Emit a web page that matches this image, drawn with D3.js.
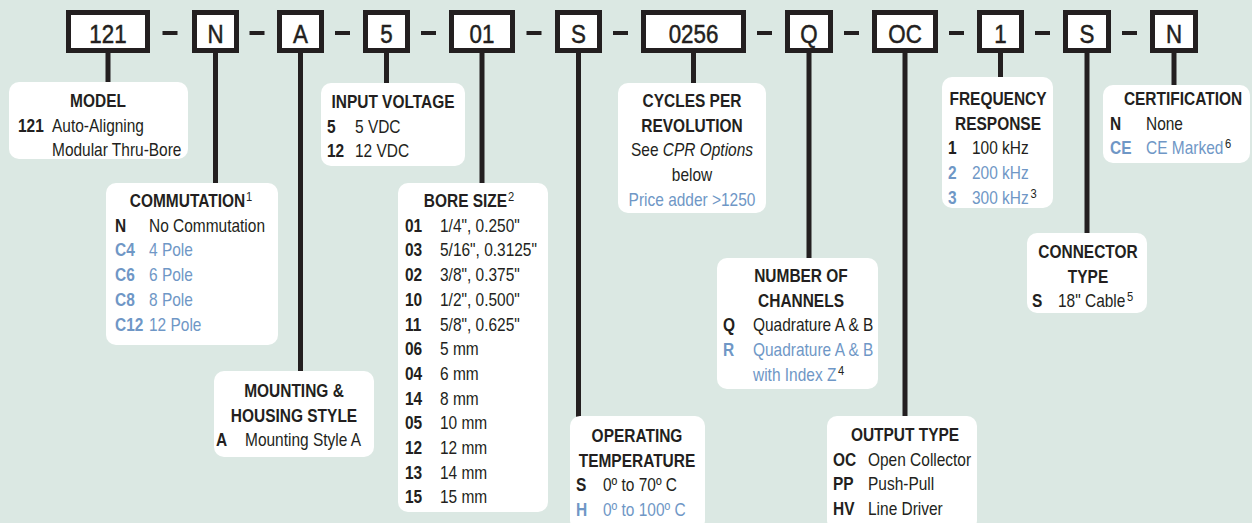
<!DOCTYPE html>
<html>
<head>
<meta charset="utf-8">
<script src="https://cdn.jsdelivr.net/npm/d3@7"></script>
<style>
  body { margin: 0; background: #dbe8e3; }
  svg { display: block; }
</style>
</head>
<body>
<div id="vizContainer"></div>
<script>
// ---- data ----
// part number segments, left to right
let codes = ["121", "N", "A", "5", "01", "S", "0256", "Q", "OC", "1", "S", "N"];

// option rows: [code, description, footnote, optional (price adder)]
let modelRows = [["121", "Auto-Aligning"], ["", "Modular Thru-Bore"]];
let commutationRows = [
  ["N", "No Commutation"],
  ["C4", "4 Pole", null, true],
  ["C6", "6 Pole", null, true],
  ["C8", "8 Pole", null, true],
  ["C12", "12 Pole", null, true]
];
let mountingRows = [["A", "Mounting Style A"]];
let voltageRows = [["5", "5 VDC"], ["12", "12 VDC"]];
let boreRows = [
  ["01", "1/4\", 0.250\""],
  ["03", "5/16\", 0.3125\""],
  ["02", "3/8\", 0.375\""],
  ["10", "1/2\", 0.500\""],
  ["11", "5/8\", 0.625\""],
  ["06", "5 mm"],
  ["04", "6 mm"],
  ["14", "8 mm"],
  ["05", "10 mm"],
  ["12", "12 mm"],
  ["13", "14 mm"],
  ["15", "15 mm"]
];
let temperatureRows = [["S", "0º to 70º C"], ["H", "0º to 100º C", null, true]];
let cprLines = [["See ", "CPR Options"], ["below"], ["Price adder >1250", null, true]];
let channelRows = [
  ["Q", "Quadrature A & B"],
  ["R", "Quadrature A & B", null, true],
  ["", "with Index Z", "4", true]
];
let outputRows = [["OC", "Open Collector"], ["PP", "Push-Pull"], ["HV", "Line Driver"]];
let frequencyRows = [["1", "100 kHz"], ["2", "200 kHz", null, true], ["3", "300 kHz", "3", true]];
let connectorRows = [["S", "18\" Cable", "5"]];
let certificationRows = [["N", "None"], ["CE", "CE Marked", "6", true]];

// ---- layout ----
let w = 1252;
let h = 523;
let dark = "#231f20";
let blue = "#6f97c6";
let font = "'Liberation Sans', Arial, sans-serif";
let sx = 0.86; // squeeze to mimic a condensed face
let lineH = 24.7;

// x extent of each segment box
let segX = [[66, 150], [192, 239], [277, 324], [363, 410], [449, 515], [555, 602],
  [641, 746], [785, 833], [872, 938], [977, 1024], [1063, 1111], [1150, 1198]];
let segTop = 10;
let segBottom = 53;
let border = 5;

let panels = [
  { seg: 0, title: ["MODEL"], rows: modelRows, box: [9, 82, 188, 159], cx: 98, codeX: 18, descX: 52, y0: 107 },
  { seg: 1, title: ["COMMUTATION"], note: "1", rows: commutationRows, box: [106, 183, 278, 345], cx: 191, codeX: 115, descX: 149, y0: 207 },
  { seg: 2, title: ["MOUNTING &", "HOUSING STYLE"], rows: mountingRows, box: [214, 371, 374, 457], cx: 294, codeX: 216, descX: 245, y0: 397 },
  { seg: 3, title: ["INPUT VOLTAGE"], rows: voltageRows, box: [321, 83, 465, 166], cx: 393, codeX: 327, descX: 355, y0: 108 },
  { seg: 4, title: ["BORE SIZE"], note: "2", rows: boreRows, box: [398, 183, 548, 512], cx: 469, codeX: 405, descX: 440, y0: 207 },
  { seg: 5, title: ["OPERATING", "TEMPERATURE"], rows: temperatureRows, box: [570, 416, 705, 530], cx: 637, codeX: 576, descX: 603, y0: 442 },
  { seg: 6, title: ["CYCLES PER", "REVOLUTION"], lines: cprLines, box: [618, 83, 766, 213], cx: 692, y0: 107 },
  { seg: 7, title: ["NUMBER OF", "CHANNELS"], rows: channelRows, box: [717, 258, 878, 389], cx: 801, codeX: 723, descX: 753, y0: 282 },
  { seg: 8, title: ["OUTPUT TYPE"], rows: outputRows, box: [827, 416, 977, 530], cx: 905, codeX: 833, descX: 868, y0: 441 },
  { seg: 9, title: ["FREQUENCY", "RESPONSE"], rows: frequencyRows, box: [942, 77, 1053, 208], cx: 998, codeX: 948, descX: 972, y0: 105 },
  { seg: 10, title: ["CONNECTOR", "TYPE"], rows: connectorRows, box: [1027, 233, 1147, 313], cx: 1088, codeX: 1032, descX: 1058, y0: 258 },
  { seg: 11, title: ["CERTIFICATION"], rows: certificationRows, box: [1103, 85, 1250, 163], cx: 1183, codeX: 1110, descX: 1146, y0: 105 }
];

let viz = d3.select("#vizContainer")
  .append("svg")
  .attr("width", w)
  .attr("height", h)
  .style("background-color", "#dbe8e3")
  .style("font-family", font)
  ;

let segCenter = (i) => (segX[i][0] + segX[i][1]) / 2;
let place = (x, y) => "translate(" + x + "," + y + ") scale(" + sx + ",1)";

// connector lines (drawn first so boxes sit on top)
viz.append("g").attr("class", "leaders")
  .selectAll("line")
  .data(panels)
  .enter()
  .append("line")
  .attr("x1", d => segCenter(d.seg))
  .attr("x2", d => segCenter(d.seg))
  .attr("y1", segBottom - 2)
  .attr("y2", d => d.box[1] + 1)
  .attr("stroke", dark)
  .attr("stroke-width", 5)
  ;

// dashes between segments
viz.append("g").attr("class", "dashes")
  .selectAll("rect")
  .data(codes.slice(1))
  .enter()
  .append("rect")
  .attr("x", (d, i) => (segX[i][1] + segX[i + 1][0]) / 2 - 8.5)
  .attr("y", 31)
  .attr("width", 15)
  .attr("height", 4)
  .attr("fill", dark)
  ;

// segment boxes
let segs = viz.append("g").attr("class", "segments")
  .selectAll("g")
  .data(codes)
  .enter()
  .append("g")
  ;
segs.append("rect")
  .attr("x", (d, i) => segX[i][0] + border / 2)
  .attr("y", segTop + border / 2)
  .attr("width", (d, i) => segX[i][1] - segX[i][0] - border)
  .attr("height", segBottom - segTop - border)
  .attr("fill", "white")
  .attr("stroke", dark)
  .attr("stroke-width", border)
  ;
segs.append("text")
  .attr("transform", (d, i) => place(segCenter(i), 43))
  .attr("text-anchor", "middle")
  .attr("font-size", 26)
  .attr("fill", dark)
  .attr("stroke", dark)
  .attr("stroke-width", 0.5)
  .text(d => d)
  ;

// option panels
let pg = viz.append("g").attr("class", "panels")
  .selectAll("g")
  .data(panels)
  .enter()
  .append("g")
  ;

pg.append("rect")
  .attr("x", d => d.box[0])
  .attr("y", d => d.box[1])
  .attr("width", d => d.box[2] - d.box[0])
  .attr("height", d => d.box[3] - d.box[1])
  .attr("rx", 10)
  .attr("fill", "white")
  ;

pg.each(function (d) {
  let g = d3.select(this);

  // title lines
  d.title.forEach((t, k) => {
    let tt = g.append("text")
      .attr("transform", place(d.cx, d.y0 + k * lineH))
      .attr("text-anchor", "middle")
      .attr("font-size", 18)
      .attr("font-weight", "bold")
      .attr("fill", dark)
      ;
    tt.append("tspan").text(t);
    if (d.note && k == d.title.length - 1) {
      tt.append("tspan")
        .attr("font-size", 13)
        .attr("font-weight", "normal")
        .attr("dy", -6)
        .attr("dx", 1)
        .text(d.note);
    }
  });

  let start = d.y0 + d.title.length * lineH;

  // centred free text lines (CPR)
  if (d.lines) {
    d.lines.forEach((l, k) => {
      let tt = g.append("text")
        .attr("transform", place(d.cx, start + k * lineH))
        .attr("text-anchor", "middle")
        .attr("font-size", 18)
        .attr("fill", l[2] ? blue : dark)
        ;
      tt.append("tspan").text(l[0]);
      if (l[1]) tt.append("tspan").attr("font-style", "italic").text(l[1]);
    });
  }

  // code / description rows
  if (d.rows) {
    d.rows.forEach((r, k) => {
      let y = start + k * lineH;
      let c = r[3] ? blue : dark;
      g.append("text")
        .attr("transform", place(d.codeX, y))
        .attr("font-size", 18)
        .attr("font-weight", "bold")
        .attr("fill", c)
        .text(r[0]);
      let tt = g.append("text")
        .attr("transform", place(d.descX, y))
        .attr("font-size", 18)
        .attr("fill", c)
        ;
      tt.append("tspan").text(r[1]);
      if (r[2]) {
        tt.append("tspan")
          .attr("font-size", 13)
          .attr("dy", -6)
          .attr("dx", 2)
          .attr("fill", dark)
          .text(r[2]);
      }
    });
  }
});
</script>
</body>
</html>
